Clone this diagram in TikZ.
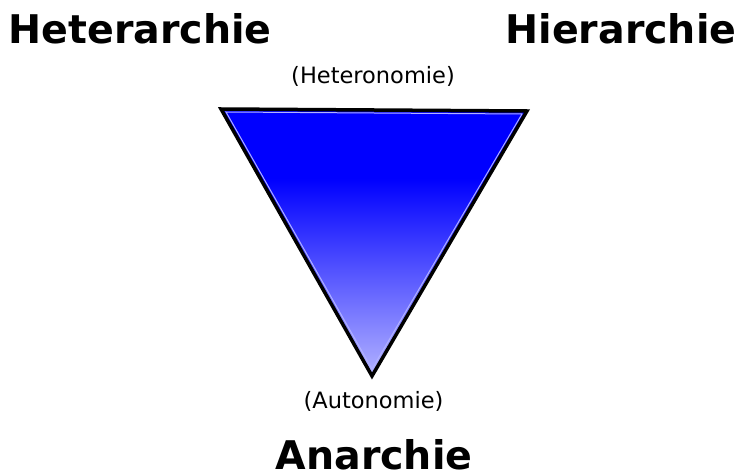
\documentclass[tikz,border=0pt]{standalone}
\usepackage{fontspec}
\usetikzlibrary{calc}
\setmainfont{DejaVu Sans}
\newfontfamily\boldsans{DejaVu Sans Bold}
\definecolor{lav}{RGB}{178,178,255}
\pgfdeclareverticalshading{trishade}{100bp}{color(0bp)=(lav); color(25bp)=(lav); color(62bp)=(blue); color(100bp)=(blue)}
\begin{document}
\begin{tikzpicture}[x=1pt,y=-1pt,
  big/.style={font=\boldsans\fontsize{39.5}{39.5}\selectfont, inner sep=0pt, anchor=base},
  small/.style={font=\fontsize{22.5}{22.5}\selectfont, inner sep=0pt, anchor=base}]
\useasboundingbox (0,0) rectangle (741,476);
\coordinate (tl) at (221,109);
\coordinate (tr) at (527,111);
\coordinate (bt) at (372,376);
\shade[shading=trishade] (tl) -- (tr) -- (bt) -- cycle;
\draw[white!70!blue, line width=1pt] ($(tl)+(5,3)$) -- ($(tr)+(-5,3)$) -- ($(bt)+(0,-7)$) -- cycle;
\draw[black, line width=3.5pt, line join=miter] (tl) -- (tr) -- (bt) -- cycle;
\node[big] (het) at (140,43.5) {Heterarchie};
\node[big] (hie) at (621,43.5) {Hierarchie};
\node[big] (ana) at (374,469) {Anarchie};
\node[small] (hetn) at (373,84) {(Heteronomie)};
\node[small] (auto) at (373.5,408) {(Autonomie)};
\end{tikzpicture}
\end{document}
